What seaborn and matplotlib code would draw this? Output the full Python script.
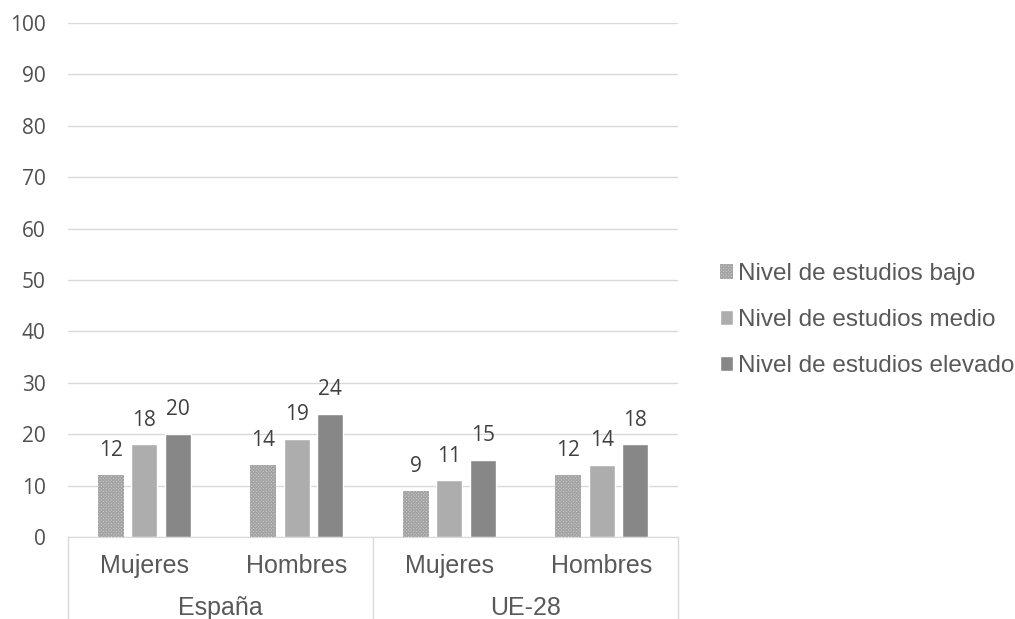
import pandas as pd
import matplotlib
matplotlib.use("Agg")
import matplotlib.pyplot as plt
import matplotlib.transforms as mtransforms
import seaborn as sns

# datos
regiones = ["España", "España", "UE-28", "UE-28"]
sexos = ["Mujeres", "Hombres", "Mujeres", "Hombres"]
niveles = ["Nivel de estudios bajo", "Nivel de estudios medio", "Nivel de estudios elevado"]
bajo = [12, 14, 9, 12]
medio = [18, 19, 11, 14]
elevado = [20, 24, 15, 18]
yticks = list(range(0, 101, 10))

colores = ["#d8d8d8", "#adadad", "#878787"]
texto = "#595959"
rejilla = "#d9d9d9"

grupos = [r + " " + s for r, s in zip(regiones, sexos)]
filas = []
for nivel, valores in zip(niveles, [bajo, medio, elevado]):
    for g, v in zip(grupos, valores):
        filas.append({"grupo": g, "nivel": nivel, "valor": v})
df = pd.DataFrame(filas)

sns.set_style("white")
plt.rcParams["font.family"] = ["Liberation Sans", "DejaVu Sans"]
plt.rcParams["hatch.linewidth"] = 1.0

fig = plt.figure(figsize=(10.15, 6.19), dpi=100)
ax = fig.add_axes([0.067, 0.1325, 0.601, 0.8305])

sns.barplot(data=df, x="grupo", y="valor", hue="nivel", order=grupos,
            hue_order=niveles, palette=colores, saturation=1,
            width=0.66, gap=0.23, errorbar=None, ax=ax)


def punteado(p):
    # patron de puntos del nivel bajo
    p.set_hatch("xxxxxxxxxx")
    p.set_edgecolor("#a4a4a4")
    p.set_linewidth(0)


for barra in ax.containers[0]:
    punteado(barra)

for cont in ax.containers:
    ax.bar_label(cont, padding=10, fontsize=15, color="#404040",
                 family="Open Sans")

ax.set_ylim(0, 100)
ax.set_xlim(-0.5, 3.5)
ax.set_yticks(yticks)
ax.set_xticks([])
ax.set_xlabel("")
ax.set_ylabel("")
ax.grid(axis="y", color=rejilla, linewidth=1)
ax.set_axisbelow(True)
for lado in ["left", "right", "top"]:
    ax.spines[lado].set_visible(False)
ax.spines["bottom"].set_color(rejilla)
ax.tick_params(axis="y", length=0, pad=16, labelsize=15, labelcolor="#505050")
for t in ax.get_yticklabels():
    t.set_family("Open Sans")

# eje de categorias en dos niveles
trans = mtransforms.blended_transform_factory(ax.transData, ax.transAxes)
for x in [-0.5, 1.5, 3.5]:
    ax.plot([x, x], [0, -0.17], transform=trans, color=rejilla,
            linewidth=1, clip_on=False)
for i, s in enumerate(sexos):
    ax.text(i, -0.057, s, transform=trans, ha="center", va="center",
            fontsize=18, color=texto)
for i, r in enumerate(["España", "UE-28"]):
    ax.text(2 * i + 0.5, -0.139, r, transform=trans, ha="center",
            va="center", fontsize=18, color=texto)

handles, labels = ax.get_legend_handles_labels()
leg = ax.legend(handles, labels, loc="center left",
                bbox_to_anchor=(0.709, 0.483), bbox_transform=fig.transFigure,
                frameon=False, fontsize=17.5, borderpad=0, borderaxespad=0,
                handlelength=0.55, handleheight=0.55, handletextpad=0.2,
                labelspacing=0.98, labelcolor=texto)
punteado(leg.legend_handles[0])

fig.savefig("out.png", dpi=100)
